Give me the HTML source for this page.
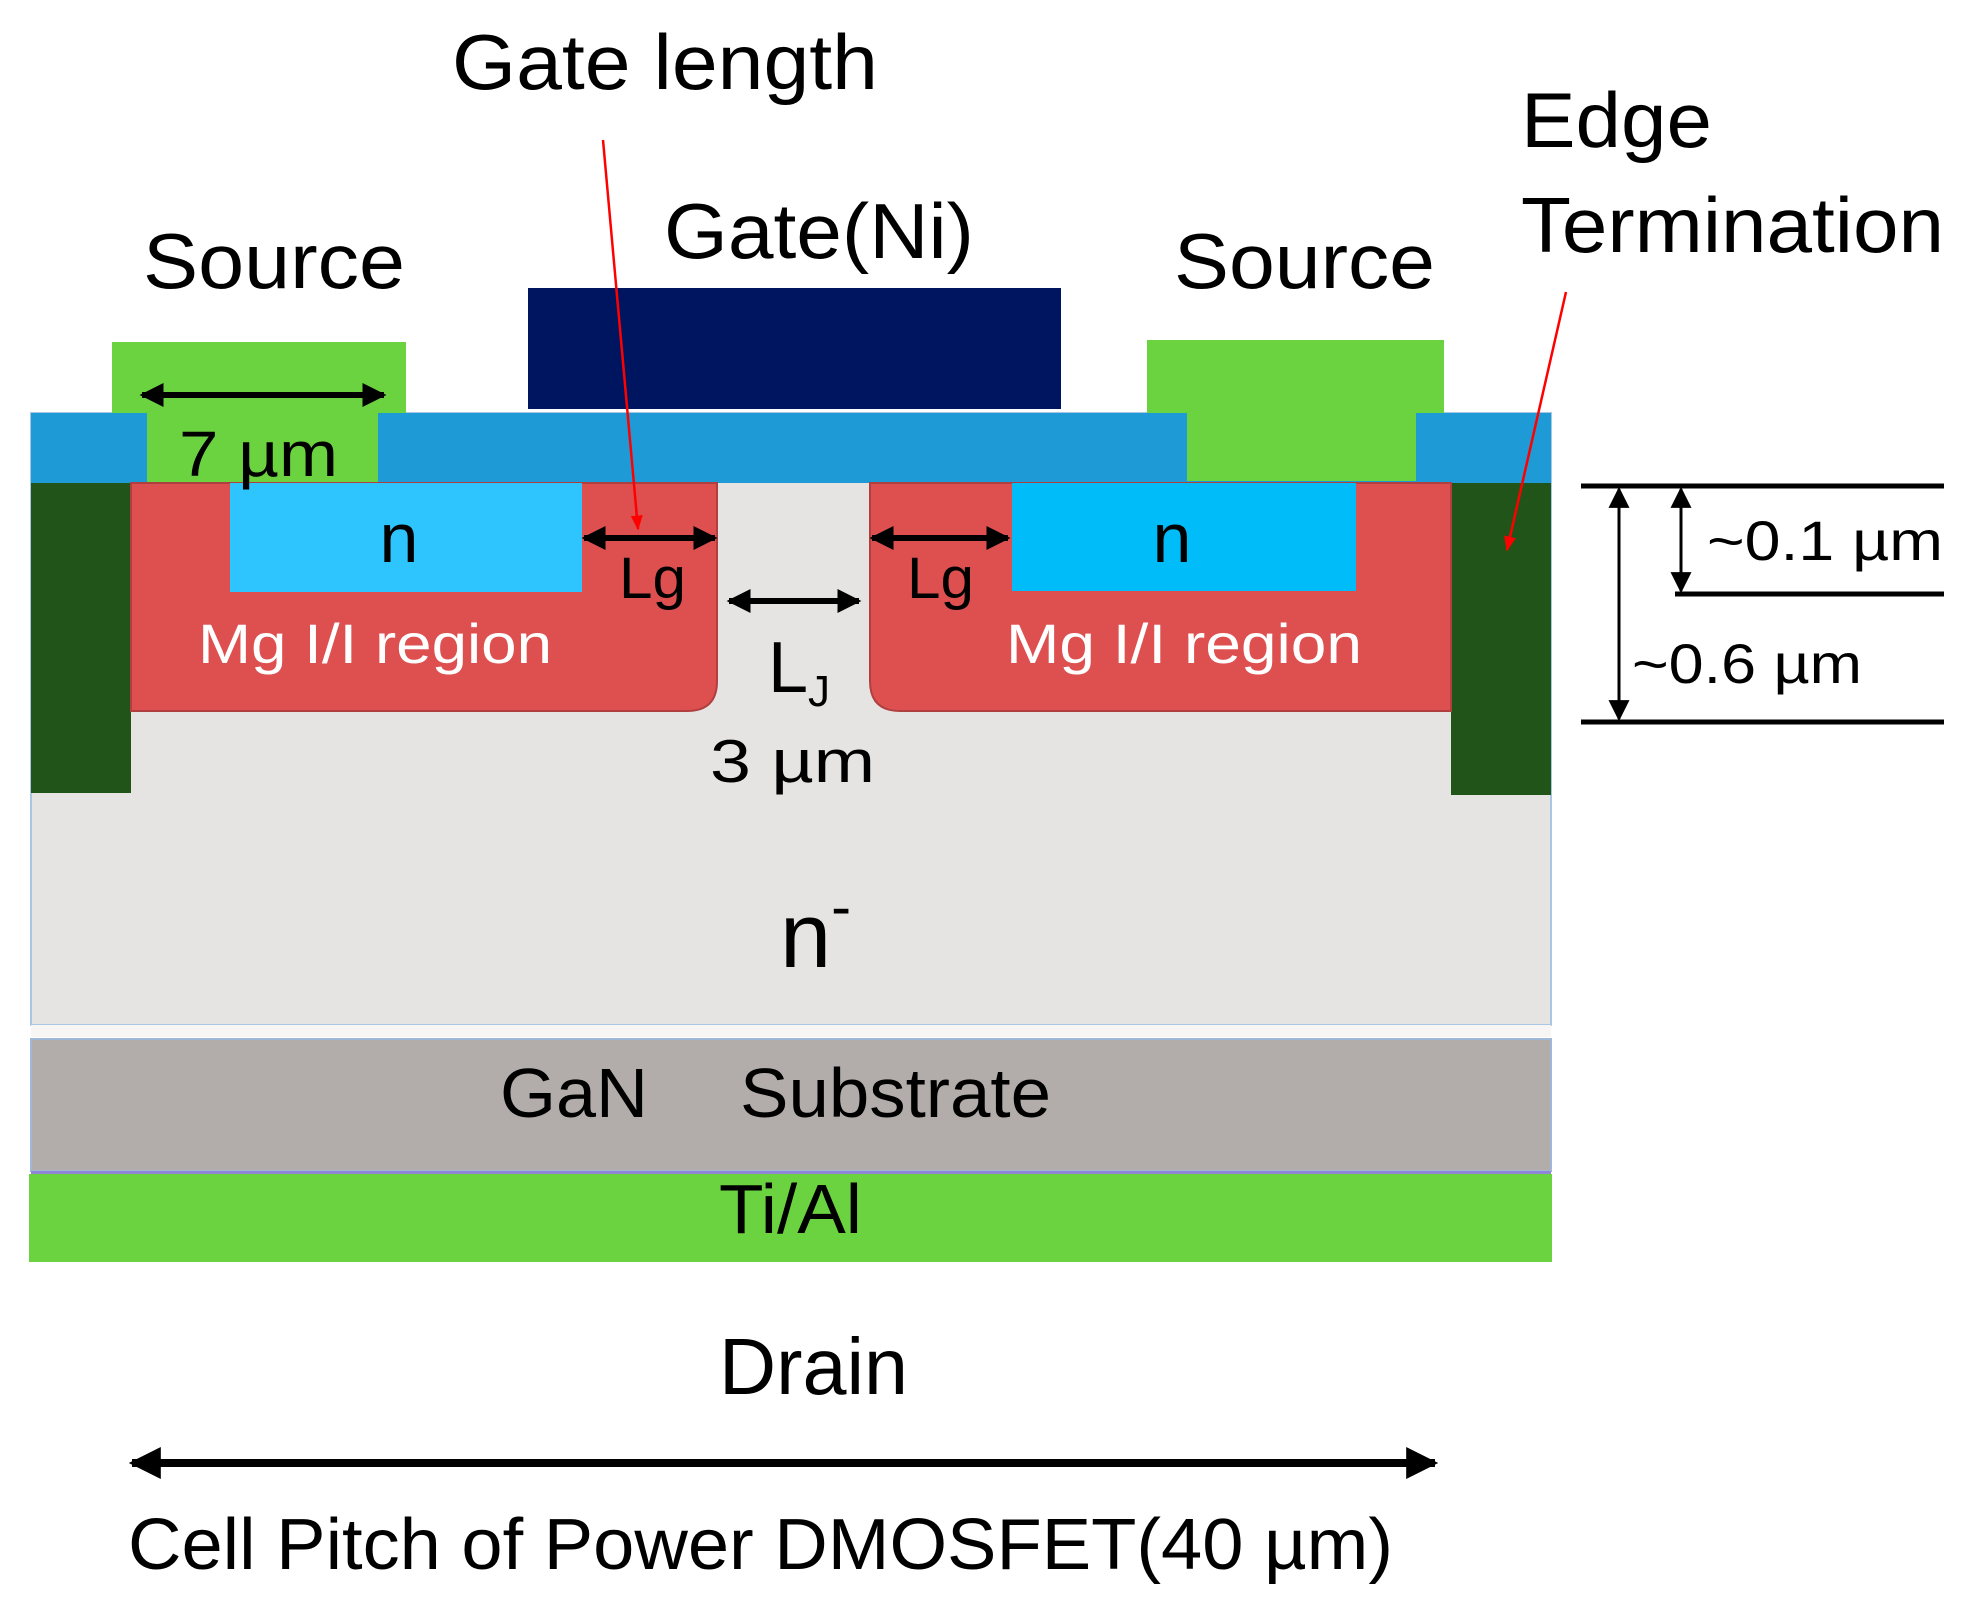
<!DOCTYPE html>
<html><head><meta charset="utf-8"><style>html,body{margin:0;padding:0;background:#fff}svg{display:block}</style></head>
<body>
<svg width="1977" height="1609" viewBox="0 0 1977 1609" xmlns="http://www.w3.org/2000/svg" font-family="Liberation Sans, Arial, sans-serif">
<defs>
<marker id="ab" viewBox="0 0 10 10" refX="9" refY="5" markerWidth="4" markerHeight="4" orient="auto-start-reverse"><path d="M0,0 L10,5 L0,10 Z" fill="#000"/></marker>
<marker id="ab2" viewBox="0 0 10 10" refX="9" refY="5" markerWidth="9" markerHeight="7" orient="auto-start-reverse"><path d="M0,0 L10,5 L0,10 Z" fill="#000"/></marker>
<marker id="ar" viewBox="0 0 10 10" refX="9" refY="5" markerWidth="6" markerHeight="6" orient="auto"><path d="M0,1 L10,5 L0,9 Z" fill="#f00"/></marker>
</defs>
<rect x="31" y="413" width="1520" height="612" fill="#e6e3e3" stroke="#a9c7e3" stroke-width="2"/>
<rect x="31" y="1025" width="1520" height="12" fill="#f7f6f4"/>
<rect x="31" y="1039" width="1520" height="132" fill="#b2adaa" stroke="#9fb8d8" stroke-width="2"/>
<rect x="31" y="1171" width="1520" height="3" fill="#8f86d8"/>
<rect x="29" y="1174" width="1523" height="88" fill="#6cd340"/>
<rect x="31" y="413" width="1520" height="70" fill="#1e9ad6"/>
<rect x="528" y="288" width="533" height="121" fill="#00155f"/>
<rect x="112" y="342" width="294" height="71" fill="#6cd340"/>
<rect x="147" y="405" width="231" height="78" fill="#6cd340"/>
<rect x="1147" y="340" width="297" height="73" fill="#6cd340"/>
<rect x="1187" y="405" width="229" height="76" fill="#6cd340"/>
<rect x="31" y="483" width="100" height="310" fill="#205418"/>
<rect x="1451" y="483" width="100" height="312" fill="#205418"/>
<path d="M131,483 H717 V681 Q717,711 687,711 H131 Z" fill="#de5050" stroke="#b04040" stroke-width="2"/>
<path d="M870,483 H1451 V711 H900 Q870,711 870,681 Z" fill="#de5050" stroke="#b04040" stroke-width="2"/>
<rect x="230" y="483" width="352" height="109" fill="#2ec5ff"/>
<rect x="1012" y="483" width="344" height="108" fill="#00bcf8"/>
<text x="399" y="562" font-size="70" text-anchor="middle">n</text>
<text x="1172" y="562" font-size="70" text-anchor="middle">n</text>
<text x="198" y="663" font-size="56" fill="#fff" textLength="354" lengthAdjust="spacingAndGlyphs">Mg I/I  region</text>
<text x="1006" y="663" font-size="56" fill="#fff" textLength="356" lengthAdjust="spacingAndGlyphs">Mg I/I  region</text>
<text x="179" y="476" font-size="64" textLength="159" lengthAdjust="spacingAndGlyphs">7 µm</text>
<line x1="142" y1="395" x2="384" y2="395" stroke="#000" stroke-width="6" marker-start="url(#ab)" marker-end="url(#ab)"/>
<line x1="584" y1="538" x2="715" y2="538" stroke="#000" stroke-width="6" marker-start="url(#ab)" marker-end="url(#ab)"/>
<line x1="872" y1="538" x2="1008" y2="538" stroke="#000" stroke-width="6" marker-start="url(#ab)" marker-end="url(#ab)"/>
<line x1="729" y1="601" x2="859" y2="601" stroke="#000" stroke-width="6" marker-start="url(#ab)" marker-end="url(#ab)"/>
<text x="619" y="598" font-size="58" textLength="67" lengthAdjust="spacingAndGlyphs">Lg</text>
<text x="907" y="598" font-size="58" textLength="67" lengthAdjust="spacingAndGlyphs">Lg</text>
<text x="768" y="692" font-size="72">L<tspan font-size="44" dy="14">J</tspan></text>
<text x="710" y="782" font-size="60" textLength="165" lengthAdjust="spacingAndGlyphs">3 µm</text>
<text x="780" y="967" font-size="92">n<tspan font-size="60" dy="-40">-</tspan></text>
<text x="500" y="1117" font-size="70" textLength="148" lengthAdjust="spacingAndGlyphs">GaN</text>
<text x="740" y="1117" font-size="70" textLength="311" lengthAdjust="spacingAndGlyphs">Substrate</text>
<text x="719" y="1233" font-size="70" textLength="143" lengthAdjust="spacingAndGlyphs">Ti/Al</text>
<text x="452" y="89" font-size="78" textLength="426" lengthAdjust="spacingAndGlyphs">Gate  length</text>
<text x="664" y="258" font-size="78" textLength="310" lengthAdjust="spacingAndGlyphs">Gate(Ni)</text>
<text x="143" y="288" font-size="78" textLength="262" lengthAdjust="spacingAndGlyphs">Source</text>
<text x="1174" y="288" font-size="78" textLength="261" lengthAdjust="spacingAndGlyphs">Source</text>
<text x="1521" y="147" font-size="78" textLength="191" lengthAdjust="spacingAndGlyphs">Edge</text>
<text x="1521" y="252" font-size="78" textLength="423" lengthAdjust="spacingAndGlyphs">Termination</text>
<line x1="603" y1="140" x2="638" y2="529" stroke="#f00" stroke-width="2.5" marker-end="url(#ar)"/>
<line x1="1566" y1="292" x2="1507" y2="550" stroke="#f00" stroke-width="2.5" marker-end="url(#ar)"/>
<line x1="1581" y1="486" x2="1944" y2="486" stroke="#000" stroke-width="5"/>
<line x1="1675" y1="594" x2="1944" y2="594" stroke="#000" stroke-width="5"/>
<line x1="1581" y1="722" x2="1944" y2="722" stroke="#000" stroke-width="5"/>
<line x1="1619" y1="489" x2="1619" y2="719" stroke="#000" stroke-width="3" marker-start="url(#ab2)" marker-end="url(#ab2)"/>
<line x1="1681" y1="489" x2="1681" y2="591" stroke="#000" stroke-width="3" marker-start="url(#ab2)" marker-end="url(#ab2)"/>
<text x="1707" y="560" font-size="56" textLength="236" lengthAdjust="spacingAndGlyphs">~0.1 µm</text>
<text x="1632" y="683" font-size="56" textLength="230" lengthAdjust="spacingAndGlyphs">~0.6 µm</text>
<text x="719" y="1394" font-size="80" textLength="189" lengthAdjust="spacingAndGlyphs">Drain</text>
<line x1="132" y1="1463" x2="1435" y2="1463" stroke="#000" stroke-width="8" marker-start="url(#ab)" marker-end="url(#ab)"/>
<text x="128" y="1569" font-size="72" textLength="1265" lengthAdjust="spacingAndGlyphs">Cell Pitch of Power DMOSFET(40 µm)</text>
</svg>
</body></html>
